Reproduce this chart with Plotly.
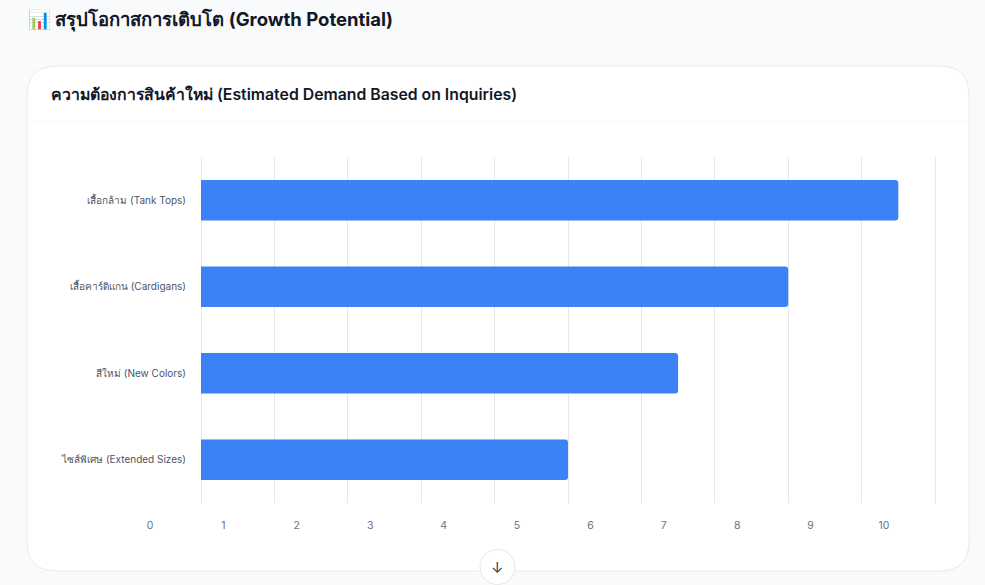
import plotly.graph_objects as go

# demand estimates
categories = [
    "เสื้อกล้าม (Tank Tops)",
    "เสื้อคาร์ดิแกน (Cardigans)",
    "สีใหม่ (New Colors)",
    "ไซส์พิเศษ (Extended Sizes)",
]
demand = [9.5, 8, 6.5, 5]
x_ticks = [0, 1, 2, 3, 4, 5, 6, 7, 8, 9, 10]

W, H = 985, 585
FONT = "Inter, 'Noto Sans', sans-serif"
BG = "#f9fafb"
X_MAX = 10.05  # a bit past 10 so the last gridline gets drawn
UNIT = 73.4    # pixels per unit on the x axis


def px(x):
    return x / W


def py(y):
    return 1 - y / H


def rounded_rect(x0, y0, x1, y1, r):
    # path in paper coords, built from pixel values
    pts = [
        f"M {px(x0 + r)} {py(y0)}",
        f"L {px(x1 - r)} {py(y0)}",
        f"Q {px(x1)} {py(y0)} {px(x1)} {py(y0 + r)}",
        f"L {px(x1)} {py(y1 - r)}",
        f"Q {px(x1)} {py(y1)} {px(x1 - r)} {py(y1)}",
        f"L {px(x0 + r)} {py(y1)}",
        f"Q {px(x0)} {py(y1)} {px(x0)} {py(y1 - r)}",
        f"L {px(x0)} {py(y0 + r)}",
        f"Q {px(x0)} {py(y0)} {px(x0 + r)} {py(y0)}",
        "Z",
    ]
    return " ".join(pts)


fig = go.Figure()
fig.add_trace(go.Bar(
    x=demand,
    y=categories,
    orientation="h",
    marker=dict(color="#3b82f6", cornerradius=3, line=dict(width=0)),
    hoverinfo="x+y",
))

shapes = [
    dict(type="path", xref="paper", yref="paper", layer="below",
         path=rounded_rect(27, 66, 969, 571, 30),
         fillcolor="white", line=dict(color="#e8eaee", width=1)),
    dict(type="line", xref="paper", yref="paper", layer="below",
         x0=px(28), x1=px(968), y0=py(122), y1=py(122),
         line=dict(color="#f7f8fa", width=1)),
    dict(type="circle", xref="paper", yref="paper", layer="above",
         x0=px(480), x1=px(515), y0=py(549.5), y1=py(584.5),
         fillcolor="white", line=dict(color="#e5e7eb", width=1)),
]

annotations = [
    dict(text="📊 สรุปโอกาสการเติบโต (Growth Potential)", xref="paper", yref="paper",
         x=px(26), y=py(20), xanchor="left", yanchor="middle", showarrow=False,
         font=dict(family=FONT, size=18.5, color="#111827", weight=700)),
    dict(text="ความต้องการสินค้าใหม่ (Estimated Demand Based on Inquiries)", xref="paper", yref="paper",
         x=px(49), y=py(95), xanchor="left", yanchor="middle", showarrow=False,
         font=dict(family=FONT, size=15.8, color="#111827", weight=600)),
    dict(text="↓", xref="paper", yref="paper",
         x=px(497.5), y=py(567), xanchor="center", yanchor="middle", showarrow=False,
         font=dict(family=FONT, size=15, color="#374151")),
]

fig.update_layout(
    width=W, height=H,
    margin=dict(l=0, r=0, t=0, b=0, pad=0),
    paper_bgcolor=BG,
    plot_bgcolor="rgba(0,0,0,0)",
    showlegend=False,
    bargap=0.53,
    font=dict(family=FONT, size=11, color="#6b7280"),
    shapes=shapes,
    annotations=annotations,
    xaxis=dict(
        domain=[px(201), px(201 + UNIT * X_MAX)],
        range=[0, X_MAX],
        tickvals=x_ticks,
        ticktext=[str(t) for t in x_ticks],
        showgrid=True, gridcolor="#e5e7eb", gridwidth=1,
        zeroline=True, zerolinecolor="#e5e7eb", zerolinewidth=1,
        showline=False, ticks="",
        ticklabelshift=-51, ticklabelstandoff=14,
        tickfont=dict(size=10.5, color="#6b7280"),
        automargin=False,
        fixedrange=True,
    ),
    yaxis=dict(
        domain=[py(503), py(157)],
        categoryorder="array",
        categoryarray=categories[::-1],
        showgrid=False, showline=False, ticks="",
        ticklabelstandoff=14,
        tickfont=dict(size=10, color="#4b5563"),
        automargin=False,
        fixedrange=True,
    ),
)

# drop the default page margin so the figure sits at the window corner
fig.write_html(
    "out.html",
    config={"displayModeBar": False},
    post_script=f"document.body.style.margin='0';document.body.style.background='{BG}';",
)
